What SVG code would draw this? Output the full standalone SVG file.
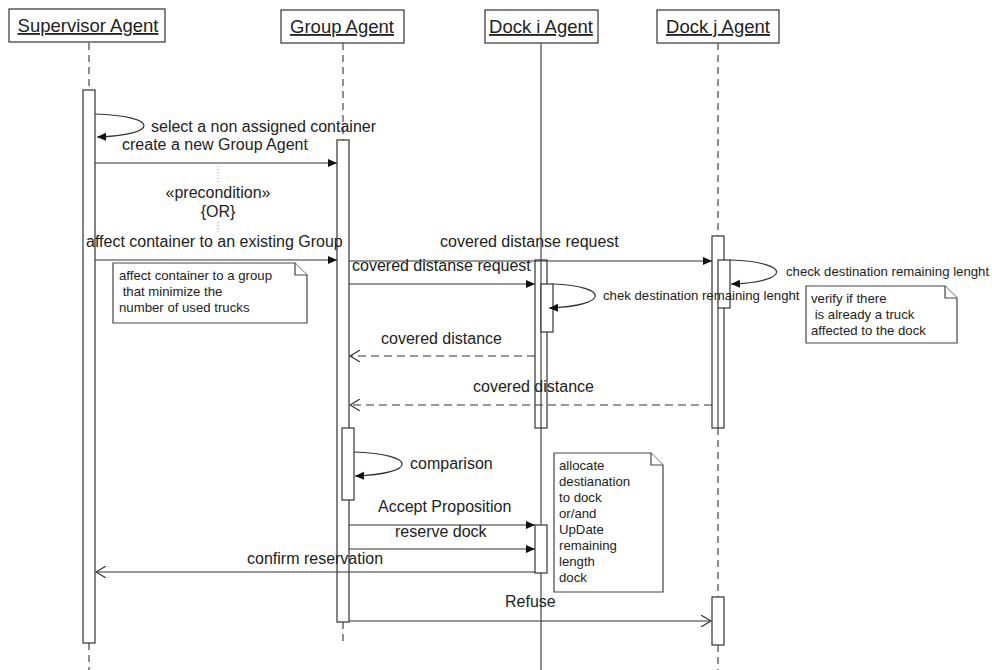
<svg xmlns="http://www.w3.org/2000/svg" width="992" height="670" viewBox="0 0 992 670">
<style>
text{font-family:"Liberation Sans",Arial,sans-serif;fill:#222}
.hdr{font-size:18.5px;text-anchor:middle;text-decoration:underline}
.box{fill:#fff;stroke:#333;stroke-width:1.2}
.life{stroke:#444;stroke-width:1.2;fill:none}
.dash{stroke-dasharray:7,5}
.act{fill:#fff;stroke:#333;stroke-width:1.2}
.msg{stroke:#333;stroke-width:1.2;fill:none}
.ret{stroke-dasharray:8,5}
.lbl{font-size:16px}
.sm{font-size:13.2px}
.note{fill:#fff;stroke:#444;stroke-width:1.2}
</style>
<defs>
<marker id="af" markerUnits="userSpaceOnUse" markerWidth="10" markerHeight="10" refX="9" refY="4" orient="auto">
<path d="M0,0 L9,4 L0,8 Z" fill="#111"/>
</marker>
<marker id="ao" markerUnits="userSpaceOnUse" markerWidth="12" markerHeight="12" refX="10" refY="6" orient="auto">
<path d="M0,0 L10,6 L0,12" fill="none" stroke="#333" stroke-width="1.1"/>
</marker>
</defs>
<rect width="992" height="670" fill="#fff"/>

<g id="supervisor">
<rect class="box" x="9" y="9" width="156" height="33"/>
<text class="hdr" x="88" y="32">Supervisor Agent</text>
<line class="life dash" x1="89" y1="43" x2="89" y2="90"/>
<line class="life dash" x1="89" y1="643" x2="89" y2="670"/>
<rect class="act" x="83" y="90" width="12" height="553"/>
</g>

<g id="group">
<rect class="box" x="281" y="10" width="123" height="33"/>
<text class="hdr" x="342" y="33">Group Agent</text>
<line class="life dash" x1="343" y1="43" x2="343" y2="140"/>
<line class="life dash" x1="343" y1="622" x2="343" y2="642"/>
<rect class="act" x="337" y="140" width="12" height="482"/>
<rect class="act" x="342" y="428" width="12" height="72"/>
</g>

<g id="docki">
<rect class="box" x="485" y="10" width="113" height="33"/>
<text class="hdr" x="541" y="33">Dock i Agent</text>
<rect class="act" x="535" y="260" width="12" height="168"/>
<rect class="act" x="535" y="525" width="12" height="48"/>
<line class="life" x1="541" y1="43" x2="541" y2="525"/>
<line class="life" x1="541" y1="573" x2="541" y2="670"/>
<rect class="act" x="541" y="284" width="12" height="48"/>
</g>

<g id="dockj">
<rect class="box" x="657" y="10" width="122" height="33"/>
<text class="hdr" x="718" y="33">Dock j Agent</text>
<line class="life dash" x1="718" y1="43" x2="718" y2="236"/>
<line class="life dash" x1="718" y1="428" x2="718" y2="597"/>
<line class="life dash" x1="718" y1="645" x2="718" y2="670"/>
<rect class="act" x="712" y="236" width="12" height="192"/>
<line class="life" x1="718" y1="308" x2="718" y2="428"/>
<rect class="act" x="718" y="260" width="12" height="48"/>
<rect class="act" x="712" y="597" width="12" height="48"/>
</g>

<g id="notes">
<g id="note1">
<path class="note" d="M113,263 H295 L307,275 V323 H113 Z"/>
<path class="note" d="M295,263 V275 H307" fill="none"/>
<text class="sm" x="119" y="280">affect container to a group</text>
<text class="sm" x="119" y="296" xml:space="preserve"> that minimize the</text>
<text class="sm" x="119" y="312">number of used trucks</text>
</g>
<g id="note2">
<path class="note" d="M806,286 H945 L957,298 V343 H806 Z"/>
<path class="note" d="M945,286 V298 H957" fill="none"/>
<text class="sm" x="811" y="303">verify if there</text>
<text class="sm" x="811" y="319" xml:space="preserve"> is already a truck</text>
<text class="sm" x="811" y="335">affected to the dock</text>
</g>
<g id="note3">
<path class="note" d="M554,453 H651 L663,465 V592 H554 Z"/>
<path class="note" d="M651,453 V465 H663" fill="none"/>
<text class="sm" x="559" y="470">allocate</text>
<text class="sm" x="559" y="486">destianation</text>
<text class="sm" x="559" y="502">to dock</text>
<text class="sm" x="559" y="518">or/and</text>
<text class="sm" x="559" y="534">UpDate</text>
<text class="sm" x="559" y="550">remaining</text>
<text class="sm" x="559" y="566">length</text>
<text class="sm" x="559" y="582">dock</text>
</g>
</g>

<g id="connectors">
<path class="msg" d="M95,114 C160,116 160,135 97,137" marker-end="url(#af)"/>
<text class="lbl" x="151" y="132">select a non assigned container</text>
<text class="lbl" x="122" y="150">create a new Group Agent</text>
<line class="msg" x1="95" y1="163" x2="337" y2="163" marker-end="url(#af)"/>
<line x1="218" y1="166" x2="218" y2="184" stroke="#999" stroke-width="1" stroke-dasharray="1,2"/>
<line x1="218" y1="222" x2="218" y2="234" stroke="#999" stroke-width="1" stroke-dasharray="1,2"/>
<text class="lbl" x="218" y="198" text-anchor="middle">«precondition»</text>
<text class="lbl" x="218" y="217" text-anchor="middle">{OR}</text>
<text class="lbl" x="86" y="247">affect container to an existing Group</text>
<line class="msg" x1="95" y1="260" x2="337" y2="260" marker-end="url(#af)"/>

<text class="lbl" x="440" y="247">covered distanse request</text>
<line class="msg" x1="349" y1="261" x2="712" y2="261" marker-end="url(#af)"/>
<text class="lbl" x="352" y="271">covered distanse request</text>
<line class="msg" x1="349" y1="284" x2="535" y2="284" marker-end="url(#af)"/>
<path class="msg" d="M553,284 C610,286 610,306 549,308" marker-end="url(#af)"/>
<text class="sm" x="603" y="300">chek destination remaining lenght</text>
<path class="msg" d="M730,260 C792,262 792,282 731,284" marker-end="url(#af)"/>
<text class="sm" x="786" y="276">check destination remaining lenght</text>

<text class="lbl" x="381" y="344">covered distance</text>
<line class="msg ret" x1="535" y1="356" x2="350" y2="356" marker-end="url(#ao)"/>
<text class="lbl" x="473" y="392">covered distance</text>
<line class="msg ret" x1="712" y1="405" x2="350" y2="405" marker-end="url(#ao)"/>

<path class="msg" d="M354,452 C418,454 418,474 355,476" marker-end="url(#af)"/>
<text class="lbl" x="410" y="469">comparison</text>

<text class="lbl" x="378" y="512">Accept Proposition</text>
<line class="msg" x1="349" y1="525" x2="535" y2="525" marker-end="url(#af)"/>
<text class="lbl" x="395" y="537">reserve dock</text>
<line class="msg" x1="349" y1="549" x2="535" y2="549" marker-end="url(#af)"/>
<text class="lbl" x="247" y="564">confirm reservation</text>
<line class="msg" x1="535" y1="572" x2="96" y2="572" marker-end="url(#ao)"/>
<text class="lbl" x="505" y="607">Refuse</text>
<line class="msg" x1="349" y1="621" x2="711" y2="621" marker-end="url(#ao)"/>
</g>
</svg>
